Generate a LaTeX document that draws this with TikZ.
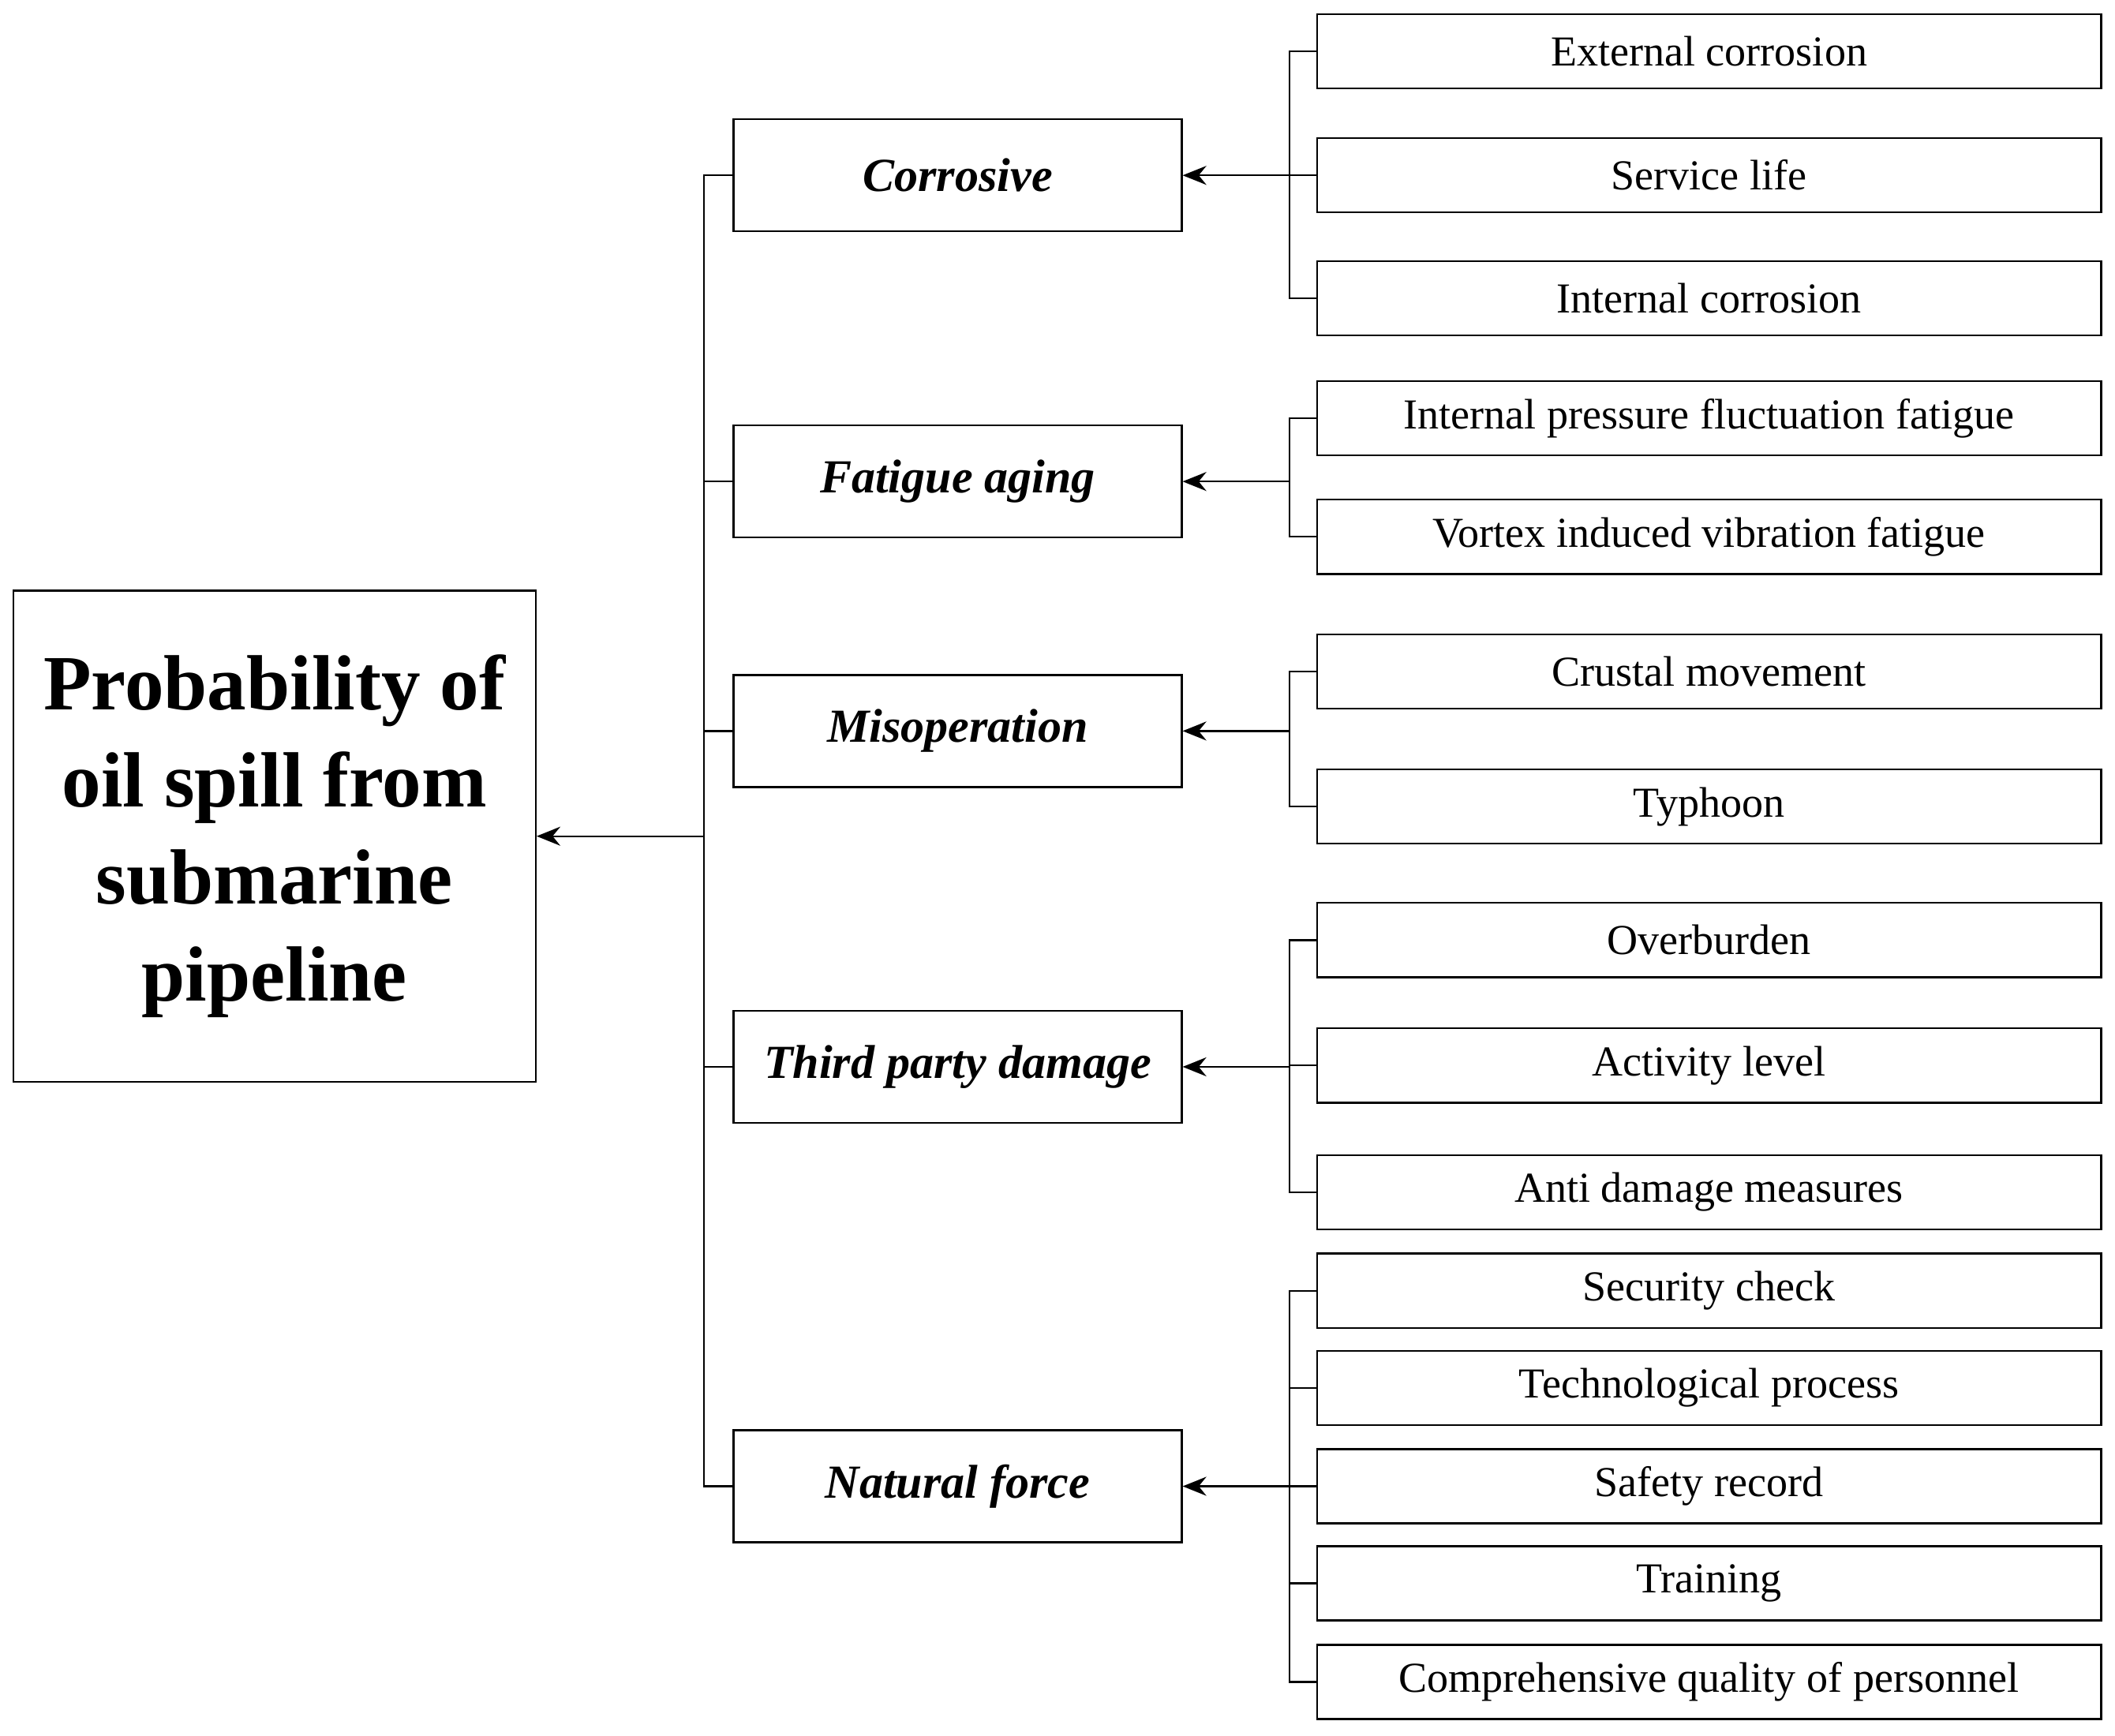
\documentclass[tikz,border=0pt]{standalone}
\usepackage{fontspec}
\setmainfont{Liberation Serif}
\usetikzlibrary{arrows.meta}
\begin{document}
\begin{tikzpicture}[x=0.01cm,y=-0.01cm,
	leaf/.style={draw, minimum width=5.81cm, minimum height=0.55cm, inner sep=0pt, font=\fontsize{9}{11}\selectfont},
	cat/.style={draw, minimum width=3.32cm, minimum height=0.83cm, inner sep=0pt, font=\fontsize{10}{12}\selectfont\bfseries\itshape},
	arr/.style={-{Stealth[length=5pt,width=4pt]}}]
	\useasboundingbox (0,0) rectangle (1568,1287);

	\node [draw, minimum width=3.87cm, minimum height=3.64cm, inner sep=0pt, align=center,
		font=\fontsize{16.5}{20.5}\selectfont\bfseries] (main) at (203.5,620)
		{Probability of\\oil spill from\\submarine\\pipeline};

	\node [cat] (corr) at (710,130) {Corrosive};
	\node [cat] (fat) at (710,357) {Fatigue aging};
	\node [cat] (mis) at (710,542) {Misoperation};
	\node [cat] (third) at (710,791) {Third party damage};
	\node [cat] (nat) at (710,1102) {Natural force};

	\node [leaf] (c1) at (1267,38) {External corrosion};
	\node [leaf] (c2) at (1267,130) {Service life};
	\node [leaf] (c3) at (1267,221) {Internal corrosion};
	\node [leaf] (f1) at (1267,310) {Internal pressure fluctuation fatigue};
	\node [leaf] (f2) at (1267,398) {Vortex induced vibration fatigue};
	\node [leaf] (m1) at (1267,498) {Crustal movement};
	\node [leaf] (m2) at (1267,598) {Typhoon};
	\node [leaf] (t1) at (1267,697) {Overburden};
	\node [leaf] (t2) at (1267,790) {Activity level};
	\node [leaf] (t3) at (1267,884) {Anti damage measures};
	\node [leaf] (n1) at (1267,957) {Security check};
	\node [leaf] (n2) at (1267,1029) {Technological process};
	\node [leaf] (n3) at (1267,1102) {Safety record};
	\node [leaf] (n4) at (1267,1174) {Training};
	\node [leaf] (n5) at (1267,1247) {Comprehensive quality of personnel};

	% trunk to the main box
	\coordinate (trunk) at (522,620);
	\draw (corr.west) -| (trunk) |- (nat.west);
	\foreach \c in {fat,mis,third}
		\draw (\c.west) -- (trunk |- \c.west);
	\draw [arr] (trunk) -- (main.east);

	% brackets of the leaves
	\foreach \c/\first/\last/\rest in {corr/c1/c3/c2, fat/f1/f2/f1, mis/m1/m2/m1, third/t1/t3/t2, nat/n1/n5/n3}
	{
		\coordinate (b\c) at (956,0);
		\draw (\first.west) -| (b\c |- \first.west) |- (\last.west);
		\draw (\rest.west) -- (b\c |- \rest.west);
		\draw [arr] (b\c |- \c.east) -- (\c.east);
	}
	\draw (n2.west) -- (956,1029);
	\draw (n4.west) -- (956,1174);
\end{tikzpicture}
\end{document}
